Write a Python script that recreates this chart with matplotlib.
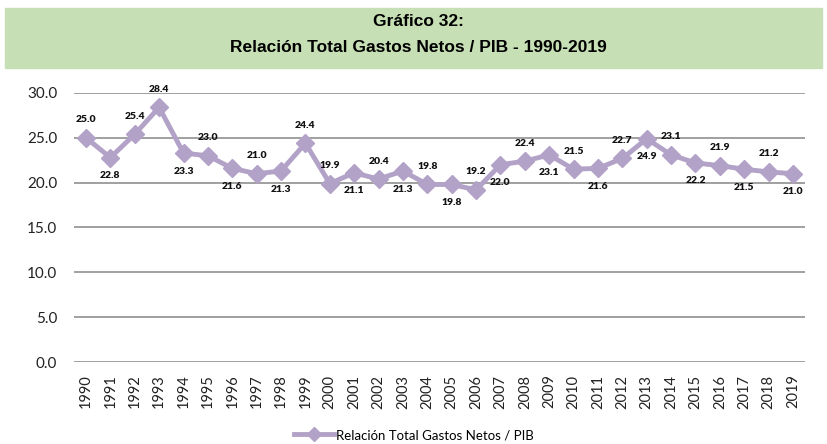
import numpy as np
import matplotlib.pyplot as plt
from matplotlib.patches import Rectangle

years = [str(y) for y in range(1990, 2020)]
ratio = [25.0, 22.8, 25.4, 28.4, 23.3, 23.0, 21.6, 21.0, 21.3, 24.4,
         19.9, 21.1, 20.4, 21.3, 19.8, 19.8, 19.2, 22.0, 22.4, 23.1,
         21.5, 21.6, 22.7, 24.9, 23.1, 22.2, 21.9, 21.5, 21.2, 21.0]
# label placement: 1 = above the point, -1 = below
label_side = [1, -1, 1, 1, -1, 1, -1, 1, -1, 1,
              1, -1, 1, -1, 1, -1, 1, -1, 1, -1,
              1, -1, 1, -1, 1, -1, 1, -1, 1, -1]
series_name = "Relación Total Gastos Netos / PIB"
title_lines = ["Gráfico 32:", "Relación Total Gastos Netos / PIB - 1990-2019"]

line_color = "#B3A2C7"
W, H = 828, 444
body_font = ["Lato", "DejaVu Sans"]

fig = plt.figure(figsize=(W / 100, H / 100), dpi=100)

# green title banner
fig.patches.append(Rectangle((5 / W, 1 - 68 / H), 817 / W, 60 / H,
                             transform=fig.transFigure, color="#C6DFB4", zorder=0))
title_font = ["Liberation Sans Narrow", "Liberation Sans", "DejaVu Sans"]
fig.text(0.505, 1 - 21 / H, title_lines[0], ha="center", va="center",
         fontsize=12.5, fontweight="bold", family=title_font)
fig.text(0.505, 1 - 48 / H, title_lines[1], ha="center", va="center",
         fontsize=12.5, fontweight="bold", family=title_font)

ax = fig.add_axes([73.8 / W, 1 - 362 / H, 731.4 / W, 269 / H])
x = np.arange(len(years))
ax.plot(x, ratio, color=line_color, lw=3.5, marker="D", markersize=9,
        label=series_name, zorder=3)

for xi, v, s in zip(x, ratio, label_side):
    ax.annotate(f"{v:.1f}", (xi, v), xytext=(0, 13 * s), textcoords="offset points",
                ha="center", va="center", fontsize=7.5, fontweight="heavy",
                family=body_font, color="#111111")

ax.set_xlim(-0.5, len(years) - 0.5)
ax.set_ylim(0, 30)
ax.set_yticks(np.arange(0, 31, 5))
ax.set_yticklabels([f"{t:.1f}" for t in np.arange(0, 31, 5)],
                   fontsize=11, family=body_font, color="#222222")
ax.set_xticks(x)
ax.set_xticklabels(years, rotation=90, fontsize=10.5, family=body_font, color="#222222")
ax.tick_params(axis="y", length=0, pad=12)
ax.tick_params(axis="x", length=0, pad=9)
ax.grid(axis="y", color="#999999", lw=1.3)
ax.set_axisbelow(True)
for sp in ax.spines.values():
    sp.set_visible(False)

fig.legend(loc="center", bbox_to_anchor=(0.5, 1 - 435 / H), frameon=False,
           prop={"family": body_font, "size": 9.5},
           handlelength=3.0, handletextpad=0.2, markerscale=0.75)

fig.savefig("out.png", dpi=100)
